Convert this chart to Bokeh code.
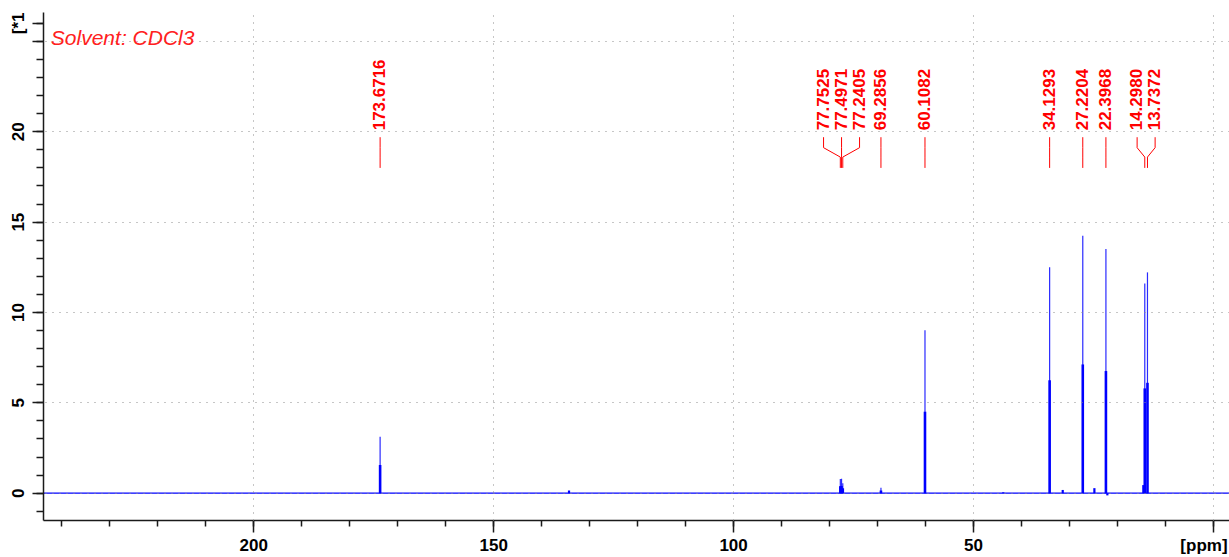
import math
from bokeh.plotting import figure
from bokeh.models import Range1d, FixedTicker, Span, Label, ColumnDataSource, LinearAxis
from bokeh.core.properties import value
from bokeh.embed import file_html
from bokeh.resources import INLINE

# ---- data ----
peak_ppm = [173.6716, 77.7525, 77.4971, 77.2405, 69.2856, 60.1082,
            34.1293, 27.2204, 22.3968, 14.2980, 13.7372]
peak_height = [3.12, 0.78, 0.80, 0.55, 0.30, 9.02,
               12.50, 14.25, 13.52, 11.60, 12.22]
peak_labels = ["173.6716", "77.7525", "77.4971", "77.2405", "69.2856", "60.1082",
               "34.1293", "27.2204", "22.3968", "14.2980", "13.7372"]
minor_ppm = [134.3, 43.8, 31.4, 24.8, 22.1, 14.6]
minor_height = [0.15, 0.05, 0.18, 0.28, -0.12, 0.45]

x_major_ticks = [200, 150, 100, 50, 0]
x_tick_labels = ["200", "150", "100", "50"]
x_unit_label = "[ppm]"
y_major_ticks = [0, 5, 10, 15, 20, 25, 26]
y_tick_labels = ["0", "5", "10", "15", "20", "", "[*1"]
y_grid_ticks = [0, 5, 10, 15, 20, 25]
solvent_text = "Solvent: CDCl3"

# ---- figure ----
FONT = "Liberation Sans"
XR = (243.83, -3.36)
YR = (-1.51, 26.6)
p = figure(width=1229, height=557, output_backend="svg", toolbar_location=None,
           x_range=Range1d(*XR), y_range=Range1d(*YR),
           min_border_left=43, min_border_right=0, min_border_top=12, min_border_bottom=37)
p.outline_line_color = None
p.background_fill_color = "white"
p.border_fill_color = "white"


def style_axis(ax):
    ax.axis_line_color = "#1a1a1a"
    ax.axis_line_width = 1.5
    ax.major_tick_line_color = "#1a1a1a"
    ax.minor_tick_line_color = "#1a1a1a"
    ax.major_tick_line_width = 1.5
    ax.minor_tick_line_width = 1.5
    ax.major_tick_in = 0
    ax.minor_tick_in = 0
    ax.major_label_text_font = FONT
    ax.major_label_text_font_style = "bold"
    ax.major_label_text_font_size = "17px"
    ax.major_label_text_color = "black"
    ax.major_label_standoff = 4


# x axis: tick marks only (labels come from the label row axis below it)
xax = p.xaxis[0]
style_axis(xax)
xax.ticker = FixedTicker(ticks=x_major_ticks, minor_ticks=list(range(240, -1, -10)))
xax.major_label_overrides = {t: "" for t in x_major_ticks}
xax.major_label_text_font_size = "1px"
xax.major_label_standoff = 0
xax.major_tick_out = 12
xax.minor_tick_out = 6

# label row: tick values plus the unit label, which sits left of the 0 tick
unit_pos = 1.96  # ppm position of the unit label's centre
row_ticks = x_major_ticks[:-1] + [unit_pos]
row_labels = x_tick_labels + [x_unit_label]
lax = LinearAxis(ticker=FixedTicker(ticks=row_ticks, minor_ticks=[]),
                 major_label_overrides={t: lab for t, lab in zip(row_ticks, row_labels)})
style_axis(lax)
lax.axis_line_color = None
lax.major_tick_line_color = None
lax.minor_tick_line_color = None
lax.major_tick_out = 0
lax.major_label_standoff = 3
p.add_layout(lax, "below")

# y axis
yax = p.yaxis[0]
style_axis(yax)
yax.ticker = FixedTicker(ticks=y_major_ticks, minor_ticks=list(range(-1, 27)))
yax.major_label_overrides = {t: lab for t, lab in zip(y_major_ticks, y_tick_labels)}
yax.major_label_orientation = "vertical"
yax.major_tick_out = 11
yax.minor_tick_out = 7

# grid
p.xgrid.ticker = FixedTicker(ticks=x_major_ticks)
p.ygrid.ticker = FixedTicker(ticks=y_grid_ticks)
for g in (p.xgrid[0], p.ygrid[0]):
    g.grid_line_color = "#8c8c8c"
    g.grid_line_dash = "1 6"
    g.grid_line_width = 1
    g.level = "annotation"

# baseline and peaks
p.add_layout(Span(location=0, dimension="width", line_color="#0000ff", line_width=1.2, level="glyph"))
half = [h / 2 for h in peak_height]
zeros = [0] * len(peak_ppm)
src = ColumnDataSource(dict(x=peak_ppm, y0=zeros, y1=peak_height, yh=half))
p.segment(x0="x", y0="y0", x1="x", y1="y1", source=src, line_color="#2a2aff", line_width=1.2)
p.segment(x0="x", y0="y0", x1="x", y1="yh", source=src, line_color="#0000ff", line_width=2.6)
msrc = ColumnDataSource(dict(x=minor_ppm, y0=[0] * len(minor_ppm), y1=minor_height))
p.segment(x0="x", y0="y0", x1="x", y1="y1", source=msrc, line_color="#0000ff", line_width=2.2)

# peak labels with connectors (labels spread in groups)
spacing = 18 / 4.798  # label spacing in ppm (18 px)
groups, cur = [], [0]
for i in range(1, len(peak_ppm)):
    if abs(peak_ppm[i - 1] - peak_ppm[i]) < spacing:
        cur.append(i)
    else:
        groups.append(cur)
        cur = [i]
groups.append(cur)
label_x = [0.0] * len(peak_ppm)
for g in groups:
    mean = sum(peak_ppm[i] for i in g) / len(g)
    n = len(g)
    for k, i in enumerate(g):
        label_x[i] = mean + ((n - 1) / 2 - k) * spacing

xs, ys = [], []
for i in range(len(peak_ppm)):
    lx, px = label_x[i], peak_ppm[i]
    xs.append([lx, lx, px, px])
    ys.append([19.7, 19.12, 18.6, 18.0])
p.multi_line(xs=xs, ys=ys, line_color="#ff0000", line_width=1)
lsrc = ColumnDataSource(dict(x=label_x, y=[20.08] * len(peak_ppm), t=peak_labels))
p.text(x="x", y="y", text="t", source=lsrc, angle=math.pi / 2, text_align="left",
       text_baseline="middle", text_color="#ff0000", text_font=value(FONT),
       text_font_style="bold", text_font_size="17px", x_offset=-1)

# solvent annotation
p.add_layout(Label(x=242.3, y=25.2, text=solvent_text, text_font=FONT, text_font_style="italic",
                   text_font_size="21px", text_color="#ff2020", text_baseline="alphabetic"))

open("out.html", "w").write(file_html(p, INLINE))
